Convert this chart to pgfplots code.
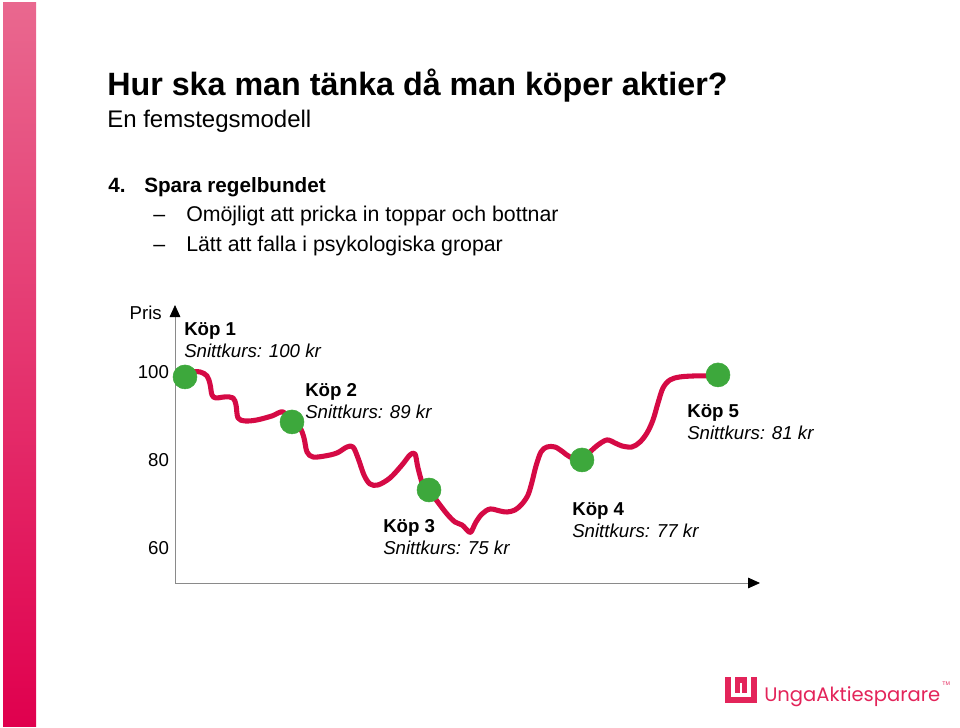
\documentclass[border=0pt]{standalone}
\usepackage{fontspec}
\setmainfont{Liberation Sans}
\usepackage{pgfplots}
\pgfplotsset{compat=1.18}
\usetikzlibrary{arrows.meta}
\definecolor{barTop}{HTML}{E9688F}
\definecolor{barBot}{HTML}{E0004E}
\definecolor{curve}{HTML}{D50A45}
\definecolor{dot}{HTML}{3DA83C}
\definecolor{logo}{HTML}{E3245A}
\definecolor{axgray}{HTML}{8A8A8A}
\begin{document}
\begin{tikzpicture}
\begin{scope}[x=0.75pt,y=-0.75pt]
\path (0,0) rectangle (960,728);
% gradient bar
\shade[top color=barTop,bottom color=barBot] (3,2) rectangle (36,726);
% title
\node[anchor=base west,inner sep=0pt,font=\fontsize{24.2}{28}\selectfont\bfseries] at (107,95) {Hur ska man tänka då man köper aktier?};
\node[anchor=base west,inner sep=0pt,font=\fontsize{18}{21}\selectfont] at (107,127) {En femstegsmodell};
\node[anchor=base west,inner sep=0pt,font=\fontsize{15.5}{18}\selectfont\bfseries] at (108,192) {4.};
\node[anchor=base west,inner sep=0pt,font=\fontsize{15.5}{18}\selectfont\bfseries] at (144,192) {Spara regelbundet};
\node[anchor=base west,inner sep=0pt,font=\fontsize{16}{18}\selectfont] at (153,221) {–};
\node[anchor=base west,inner sep=0pt,font=\fontsize{16}{18}\selectfont] at (186,221) {Omöjligt att pricka in toppar och bottnar};
\node[anchor=base west,inner sep=0pt,font=\fontsize{16}{18}\selectfont] at (153,251) {–};
\node[anchor=base west,inner sep=0pt,font=\fontsize{16}{18}\selectfont] at (186,251) {Lätt att falla i psykologiska gropar};
% chart labels
\node[anchor=east,inner sep=0pt,font=\fontsize{14}{16}\selectfont] at (162,313) {Pris};
\foreach \px/\py/\k/\s in {184/335/1/100, 305/396/2/89, 383/532/3/75, 572/515/4/77, 687/417/5/81}{
  \node[anchor=base west,inner sep=0pt,font=\fontsize{14}{16}\selectfont\bfseries] at (\px,\py) {Köp \k};
  \node[anchor=base west,inner sep=0pt,font=\fontsize{14}{16}\selectfont\itshape] at (\px,\py+22) {Snittkurs: \s\ kr};
}
% logo
\fill[logo] (725,677) rectangle (731,703);
\fill[logo] (725,697) rectangle (757,703);
\fill[logo] (751,677) rectangle (757,703);
\fill[logo] (735,677) rectangle (747,683);
\fill[logo] (735,677) rectangle (740,693);
\fill[logo] (742,677) rectangle (747,693);
\node[anchor=west,inner sep=0pt,text=logo] at (764,697) {\resizebox{132pt}{!}{\fontspec{Poppins}UngaAktiesparare}};
\node[anchor=north west,inner sep=0pt,text=logo,font=\fontsize{4}{5}\selectfont] at (942,682) {TM};
\end{scope}
\begin{axis}[
  at={(131.25pt,-437.25pt)}, anchor=origin,
  scale only axis, width=438.75pt, height=208.5pt,
  xmin=0, xmax=585, ymin=52.05, ymax=115.2,
  axis lines=left,
  axis line style={axgray, line width=0.6pt, -{Triangle[length=9pt,width=8pt,color=black]}},
  xtick=\empty,
  ytick={60,80,100},
  major tick length=0pt,
  yticklabel style={font=\fontsize{14}{16}\selectfont, xshift=-1pt},
  /pgf/number format/assume math mode=true,
  clip=false,
]
\addplot[curve, line width=3.8pt, smooth, tension=0.55, line cap=round, line join=round] coordinates {
(15,100) (25,100) (32,99.09) (35,97.27) (37,94.77) (41,94.09) (50,94.32) (58,94.09) (61,92.5) (63,89.55) (70,88.86) (82,89.09) (97,90.0) (108,90.91) (117,88.64)
(125,87.27) (129,85.0) (132,81.82) (138,80.68) (150,80.91) (162,81.59) (172,82.95) (178,82.95) (183,80.45) (189,76.59) (195,74.55) (203,74.32) (215,75.91) (227,78.86) (235,81.14) (240,81.36) (243,78.18) (248,74.32) (254,73.18)
(262,70.68) (272,67.73) (280,65.91) (287,65.23) (293,63.86) (296,63.64) (301,65.91) (307,67.73) (315,68.86) (325,68.41) (332,68.18) (340,68.64) (347,70.0) (353,72.05) (357,75.0) (361,78.64) (366,81.82) (372,82.95) (380,82.95) (388,81.82) (395,80.68) (407,80.0)
(415,81.82) (423,83.41) (432,84.55) (440,83.86) (447,83.18) (457,82.95) (465,84.09) (472,86.14) (478,89.09) (483,92.95) (488,96.36) (495,98.18) (505,98.86) (520,99.09) (532,99.09) (543,99.32)
};
\addplot[only marks, mark=*, mark size=9pt, mark options={fill=dot, draw=dot}] coordinates {
(10,98.86) (117,88.64) (254,73.18) (407,80.0) (543,99.32)
};
\end{axis}
\end{tikzpicture}
\end{document}
